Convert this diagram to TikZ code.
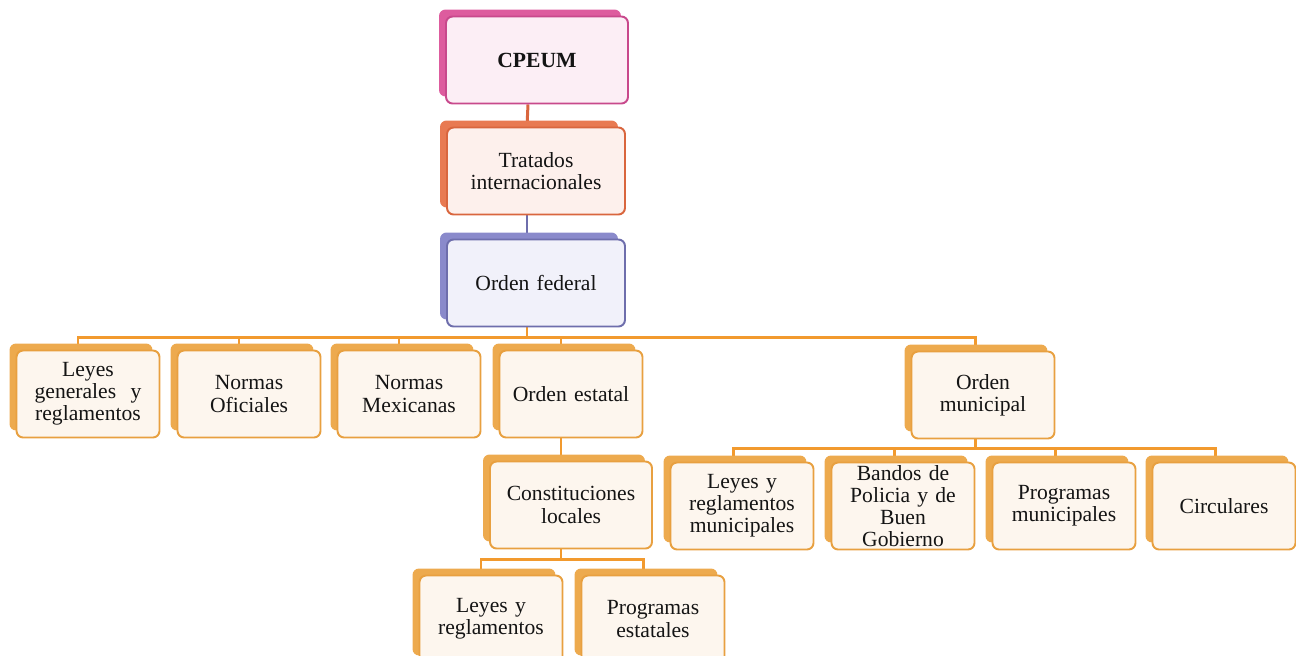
\documentclass[tikz,border=0pt]{standalone}
\usepackage{fontspec}
\setmainfont{Liberation Serif}[WordSpace=0.8]
\usetikzlibrary{shadows,backgrounds}

\definecolor{pkline}{HTML}{C8498C}
\definecolor{pkfill}{HTML}{FCEEF5}
\definecolor{pkshade}{HTML}{DD5C9E}
\definecolor{rdline}{HTML}{D9663E}
\definecolor{rdfill}{HTML}{FDF0EC}
\definecolor{rdshade}{HTML}{E87A52}
\definecolor{blline}{HTML}{6E6EAC}
\definecolor{blfill}{HTML}{F1F1FA}
\definecolor{blshade}{HTML}{8A8ACB}
\definecolor{orline}{HTML}{E8A040}
\definecolor{orfill}{HTML}{FDF6EE}
\definecolor{orshade}{HTML}{EDAA4E}
\definecolor{orwire}{HTML}{F29A2E}
\definecolor{bltext}{HTML}{141414}

\begin{document}
\begin{tikzpicture}[x=0.02cm,y=-0.02cm,font=\fontsize{12.3}{12.6}\selectfont,text=bltext]
  \tikzset{box/.style={draw=#1line,fill=#1fill,line width=1.1pt,rounded corners=0.13cm,
      align=center,inner sep=0pt,minimum height=1.74cm,text width=2.86cm,
      general shadow={fill=#1shade,shadow xshift=-0.14cm,shadow yshift=0.14cm}},
    box/.default=or,
    wire/.style={draw=#1,line width=1.7pt},
    wire/.default=orwire}
  \clip (0,0) rectangle (1296,656);
  \node[box=pk,text width=3.64cm] (cpeum)    at (537, 60)  {\textbf{CPEUM}};
  \node[box=rd,text width=3.56cm] (tratados) at (536,171)  {Tratados\\internacionales};
  \node[box=bl,text width=3.56cm] (federal)  at (536,283)  {Orden federal};

  \node[box] (leyesgen)  at (88, 394)  {Leyes\\generales \ y\\reglamentos};
  \node[box] (normasof)  at (249,394)  {Normas\\Oficiales};
  \node[box] (normasmex) at (409,394)  {Normas\\Mexicanas};
  \node[box] (estatal)   at (571,394)  {Orden estatal};
  \node[box] (municipal) at (983,395)  {Orden\\municipal};

  \node[box,text width=3.24cm] (constit) at (571,505) {Constituciones\\locales};
  \node[box] (leyesest)  at (491,619)  {Leyes y\\reglamentos};
  \node[box] (progest)   at (653,619)  {Programas\\estatales};

  \node[box] (leyesmun)   at (742, 506) {Leyes y\\reglamentos\\municipales};
  \node[box] (bandos)     at (903, 506) {Bandos de\\Policia y de\\Buen\\Gobierno};
  \node[box] (progmun)    at (1064,506) {Programas\\municipales};
  \node[box] (circulares) at (1224,506) {Circulares};

  \begin{scope}[on background layer]
    \draw[wire=rdline] ([xshift=-0.18cm]cpeum.south) -- ([xshift=-0.18cm]tratados.north);
    \draw[wire=blline] ([xshift=-0.18cm]tratados.south) -- ([xshift=-0.18cm]federal.north);
    % orden federal
    \draw[wire] ([xshift=-0.18cm]federal.south) -- ++(0,10) -| ([xshift=-0.2cm]leyesgen.north);
    \draw[wire] ([xshift=-0.18cm]federal.south) -- ++(0,10) -| ([xshift=-0.2cm]normasof.north);
    \draw[wire] ([xshift=-0.18cm]federal.south) -- ++(0,10) -| ([xshift=-0.2cm]normasmex.north);
    \draw[wire] ([xshift=-0.18cm]federal.south) -- ++(0,10) -| ([xshift=-0.2cm]estatal.north);
    \draw[wire] ([xshift=-0.18cm]federal.south) -- ++(0,10) -| ([xshift=-0.16cm]municipal.north);
    % orden estatal
    \draw[wire] ([xshift=-0.2cm]estatal.south) -- ([xshift=-0.2cm]estatal.south |- constit.north);
    \draw[wire] ([xshift=-0.2cm]constit.south) -- ++(0,10) -| ([xshift=-0.2cm]leyesest.north);
    \draw[wire] ([xshift=-0.2cm]constit.south) -- ++(0,10) -| ([xshift=-0.2cm]progest.north);
    % orden municipal
    \draw[wire] ([xshift=-0.16cm]municipal.south) -- ++(0,9) -| ([xshift=-0.18cm]leyesmun.north);
    \draw[wire] ([xshift=-0.16cm]municipal.south) -- ++(0,9) -| ([xshift=-0.18cm]bandos.north);
    \draw[wire] ([xshift=-0.16cm]municipal.south) -- ++(0,9) -| ([xshift=-0.18cm]progmun.north);
    \draw[wire] ([xshift=-0.16cm]municipal.south) -- ++(0,9) -| ([xshift=-0.18cm]circulares.north);
  \end{scope}
\end{tikzpicture}
\end{document}
